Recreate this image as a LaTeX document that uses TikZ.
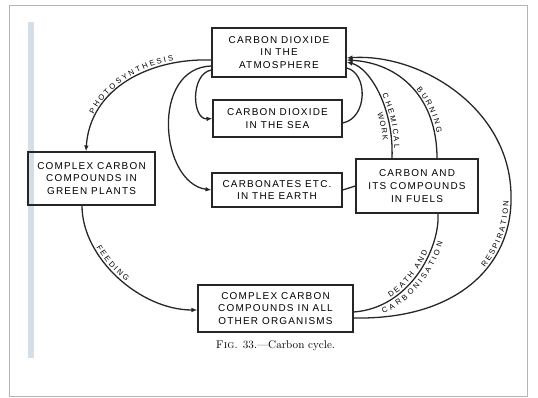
\documentclass[tikz,border=0pt]{standalone}
\usepackage{fontspec}
\usepackage{tikz}
\usetikzlibrary{positioning, arrows.meta, calc, decorations.text}
\newfontfamily\boxfont[LetterSpace=12]{Liberation Sans}
\newfontfamily\arcfont{Liberation Sans}
\newcommand{\arcsize}{\arcfont\fontsize{6.5}{8}\selectfont}
\definecolor{framegray}{HTML}{B4B4B4}
\definecolor{scanblue}{HTML}{D5DEE6}
\definecolor{inkblack}{HTML}{262626}

\tikzset{
  stagebox/.style={draw=inkblack, line width=1.1pt, align=center, inner sep=2pt,
    font=\boxfont\fontsize{8.5}{11}\selectfont},
  flow/.style={draw=inkblack, line width=1.1pt},
  flowtip/.style={flow, -{Latex[length=5pt,width=4pt]}},
  arclabel/.style={decorate, decoration={text along path, text align=center, raise=#1}},
}

\begin{document}
\begin{tikzpicture}[x=0.03cm, y=0.03cm]
  \useasboundingbox (0,0) rectangle (538,398);
  \draw[framegray, line width=0.8pt] (9,2) rectangle (527,393);
  \fill[scanblue] (28,40) rectangle (34,376);

  % the six stores of carbon
  \node[stagebox, minimum width=4.02cm, minimum height=1.47cm] (atm) at (279,345.5)
    {CARBON DIOXIDE\\IN THE\\ATMOSPHERE};
  \node[stagebox, minimum width=3.87cm, minimum height=1.11cm] (sea) at (277.5,279.5)
    {CARBON DIOXIDE\\IN THE SEA};
  \node[stagebox, minimum width=3.9cm, minimum height=1.02cm] (earth) at (277,208)
    {CARBONATES ETC.\\IN THE EARTH};
  \node[stagebox, minimum width=3.66cm, minimum height=1.62cm] (fuels) at (417,212)
    {CARBON AND\\ITS COMPOUNDS\\IN FUELS};
  \node[stagebox, minimum width=3.81cm, minimum height=1.59cm] (plants) at (91.5,219.5)
    {COMPLEX CARBON\\COMPOUNDS IN\\GREEN PLANTS};
  \node[stagebox, minimum width=4.65cm, minimum height=1.41cm] (org) at (275.5,89.5)
    {COMPLEX CARBON\\COMPOUNDS IN ALL\\OTHER ORGANISMS};
  \node[below=3pt of org, font=\fontsize{9.5}{11}\selectfont] (caption)
    {\textsc{Fig.} 33.---Carbon cycle.};

  % photosynthesis and feeding
  \draw[flowtip] ($(atm.west)+(0,-7.5)$) .. controls (150,340) and (90,310) .. ($(plants.north)+(-5.5,0)$);
  \path[arclabel=2pt, decoration={text={|\arcsize|P H O T O S Y N T H E S I S}}]
    ($(plants.north)+(-5.5,0)$) .. controls (90,310) and (150,340) .. ($(atm.west)+(0,-7.5)$);
  \draw[flowtip] ($(plants.south)+(-9.5,0)$) .. controls (82,140) and (140,88) .. ($(org.west)+(0,-1.5)$);
  \path[arclabel=2pt, decoration={text={|\arcsize|F E E D I N G}, text align={left, left indent=1.35cm}}]
    ($(plants.south)+(-9.5,0)$) .. controls (82,140) and (140,88) .. ($(org.west)+(0,-1.5)$);

  % sea and earth
  \draw[flowtip] ($(atm.west)+(0,-17.5)$) .. controls (190,324) and (192,278) .. (sea.west);
  \draw[flow] ($(sea.east)+(0,-4.5)$) .. controls (368,280) and (368,325) .. ($(atm.east)+(0,-15.5)$);
  \draw[flowtip] ($(atm.west)+(0,-13.5)$) .. controls (150,330) and (160,215) .. (earth.west);
  \draw[flow] (earth.east) -- (fuels.west);

  % fuels
  \draw[flowtip] ($(fuels.north)+(20,0)$) .. controls (437,300) and (400,335) .. ($(atm.east)+(0,-7.5)$);
  \path[arclabel=2pt, decoration={text={|\arcsize|B U R N I N G}, text align={right, right indent=0.75cm}}]
    ($(atm.east)+(0,-7.5)$) .. controls (400,335) and (437,300) .. ($(fuels.north)+(20,0)$);
  \draw[flowtip] ($(fuels.north)+(-25,0)$) .. controls (394,290) and (370,330) .. ($(atm.east)+(0,-9.5)$);
  \path[arclabel=2pt, decoration={text={|\arcsize|C H E M I C A L}, text align={right, right indent=0.3cm}}]
    ($(atm.east)+(0,-9.5)$) .. controls (370,330) and (394,290) .. ($(fuels.north)+(-25,0)$);
  \path[arclabel=-7.5pt, decoration={text={|\arcsize|W O R K}, text align={right, right indent=0.55cm}}]
    ($(atm.east)+(0,-9.5)$) .. controls (370,330) and (394,290) .. ($(fuels.north)+(-25,0)$);
  \draw[flow] ($(org.east)+(0,-3.5)$) .. controls (410,90) and (440,150) .. ($(fuels.south)+(21,0)$);
  \path[arclabel=2pt, decoration={text={|\arcsize|D E A T H ~ A N D}}]
    ($(org.east)+(0,-3.5)$) .. controls (410,90) and (440,150) .. ($(fuels.south)+(21,0)$);
  \path[arclabel=-7.5pt, decoration={text={|\arcsize|C A R B O N I S A T I O N}}]
    ($(org.east)+(0,-3.5)$) .. controls (410,90) and (440,150) .. ($(fuels.south)+(21,0)$);

  % respiration
  \draw[flowtip] ($(org.east)+(0,-9.5)$) .. controls (460,78) and (513,135) .. (511,203)
    .. controls (510,290) and (420,345) .. ($(atm.east)+(0,-5.5)$);
  \path[arclabel=2pt, decoration={text={|\arcsize|R E S P I R A T I O N}, text align={right, right indent=0.2cm}}]
    ($(org.east)+(0,-9.5)$) .. controls (460,78) and (513,135) .. (511,203);
\end{tikzpicture}
\end{document}
